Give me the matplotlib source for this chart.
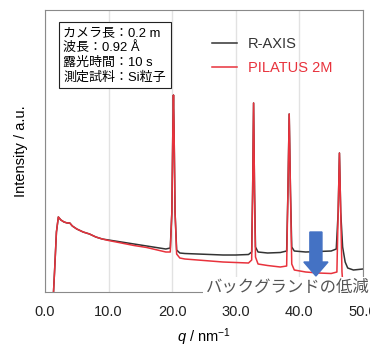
import matplotlib.pyplot as plt
from matplotlib.patches import FancyArrow

plt.rcParams['font.family'] = ['Liberation Sans', 'Noto Sans CJK JP', 'DejaVu Sans']
plt.rcParams['mathtext.fontset'] = 'custom'
plt.rcParams['mathtext.rm'] = 'Liberation Sans'
plt.rcParams['mathtext.it'] = 'Liberation Sans:italic'

# R-AXIS (black) profile
q_raxis = [1.3, 1.5, 1.8, 2.1, 2.5, 3.0, 3.5, 3.9, 4.3, 5, 6, 7, 8, 9, 10, 11, 12,
           13, 14, 15, 16, 17, 18, 19, 19.7, 19.95, 20.1, 20.2, 20.3, 20.45,
           20.7, 21.2, 22, 24, 26, 28, 30, 32, 32.5, 32.65, 32.8, 32.95, 33.1,
           33.5, 35, 37, 38.0, 38.2, 38.4, 38.6, 38.8, 39.2, 41, 43, 45, 45.8,
           46.1, 46.3, 46.5, 46.8, 47.2, 47.6, 48.5, 50]
i_raxis = [-5, 20, 60, 75, 72, 70, 69, 69, 66, 63, 60, 58, 55, 53, 52, 51, 50,
           49, 48, 47, 46, 45, 44, 43, 44, 80, 160, 197, 160, 80,
           42, 39, 38.5, 38, 37.5, 37, 37, 37.5, 40, 100, 189, 100, 45,
           40, 39, 39.5, 41, 100, 178, 100, 45, 41, 40, 40.5, 41, 43,
           80, 139, 80, 45, 30, 24, 22, 23]

# PILATUS 2M (red) profile
q_pilatus = [1.3, 1.5, 1.8, 2.1, 2.5, 3.0, 3.5, 3.9, 4.3, 5, 6, 7, 8, 9, 10, 12,
             14, 16, 18, 19, 19.7, 19.95, 20.1, 20.2, 20.3, 20.45, 20.7, 21.2,
             22, 24, 26, 28, 30, 32, 32.5, 32.65, 32.8, 32.95, 33.1, 33.5, 35,
             37, 38.0, 38.2, 38.4, 38.6, 38.8, 39.2, 41, 43, 45, 45.9, 46.1,
             46.3, 46.5, 46.7, 46.9, 47.0]
i_pilatus = [-5, 20, 60, 75, 72, 70, 69, 69, 66, 63, 60, 58, 55, 53, 51.5, 49,
             46.5, 44.5, 41.5, 40, 40, 80, 160, 197, 160, 80, 38, 34,
             33, 32, 31, 30, 29.5, 29, 32, 100, 189, 100, 35, 28, 26.5,
             25, 26, 100, 178, 100, 28, 22, 20, 19, 18.5, 20, 80,
             139, 80, 20, 2, -5]

xticks = [0, 10, 20, 30, 40, 50]
xtick_labels = ['0.0', '10.0', '20.0', '30.0', '40.0', '50.0']

info_lines = ['カメラ長：0.2 m', '波長：0.92 Å', '露光時間：10 s', '測定試料：Si粒子']

fig = plt.figure(figsize=(3.7, 3.5), dpi=100)
ax = fig.add_axes([0.1216, 0.1657, 0.8594, 0.8057])

ax.plot(q_raxis, i_raxis, color='#333333', lw=1.1, label='R-AXIS')
ax.plot(q_pilatus, i_pilatus, color='#e8323c', lw=1.1, label='PILATUS 2M')

ax.set_xlim(0, 50)
ax.set_ylim(0, 282)
ax.set_xticks(xticks)
ax.set_xticklabels(xtick_labels)
ax.set_yticks([])
ax.tick_params(axis='x', length=0, labelsize=10.5, pad=9, colors='#222222')
ax.grid(axis='x', color='#e2e2e2', lw=1)
for s in ax.spines.values():
    s.set_color('#8a8a8a')

ax.set_xlabel('$q$ / nm$^{-1}$', fontsize=10.5, labelpad=6)
ax.set_ylabel('Intensity / a.u.', fontsize=10.5, labelpad=12)

leg = ax.legend(loc='upper left', bbox_to_anchor=(0.485, 0.95), frameon=False,
                handlelength=1.7, handletextpad=0.75, labelspacing=0.7,
                fontsize=10.5, labelcolor='linecolor')

ax.text(0.058, 0.94, '\n'.join(info_lines), transform=ax.transAxes,
        fontsize=9.4, va='top', ha='left', linespacing=1.25,
        bbox=dict(boxstyle='square,pad=0.35', fc='white', ec='#222222', lw=0.8))

ax.add_patch(FancyArrow(42.6, 60, 0, -30, width=1.9, head_width=3.8,
                        head_length=14, length_includes_head=False,
                        color='#4472c4', zorder=5))

fig.text(0.998, 0.18, 'バックグランドの低減', ha='right', va='center',
         fontsize=11.8, color='#555555',
         bbox=dict(boxstyle='square,pad=0.15', fc='white', ec='none'))

fig.savefig('out.png')
